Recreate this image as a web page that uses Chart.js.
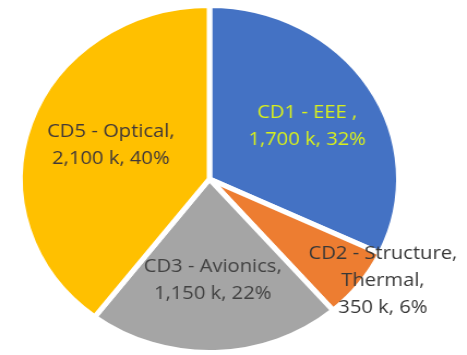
<!DOCTYPE html>
<html>
<head>
<meta charset="utf-8">
<script src="https://cdn.jsdelivr.net/npm/chart.js@4.4.1/dist/chart.umd.min.js"></script>
<style>
    html, body { margin: 0; padding: 0; background: #fff; overflow: hidden; }
    #wrap {
        position: absolute; left: 0; top: 0;
        width: 428px; height: 355px;
        transform: scaleX(1.091); transform-origin: 0 0;
    }
</style>
</head>
<body>
<div id="wrap"><canvas id="costChart"></canvas></div>
<script>
// Cost split per domain (k)
const categories = ['CD1 - EEE ,', 'CD2 - Structure, Thermal,', 'CD3 - Avionics,', 'CD5 - Optical,'];
const costs = [1700, 350, 1150, 2100];
const shares = ['32%', '6%', '22%', '40%'];

const sliceColors = ['#4472C4', '#ED7D31', '#A5A5A5', '#FFC000'];
const labelColors = ['#d8f01c', '#383838', '#424242', '#413838'];
// label distance from centre (fraction of radius) plus a small nudge
const labelRadius = [0.61, 1.08, 0.58, 0.55];
const labelNudge = [[0, 4], [10, -12], [0, 1], [0, -3]];
const labelLines = [
    ['CD1 - EEE ,', null],
    ['CD2 - Structure,', 'Thermal,', null],
    ['CD3 - Avionics,', null],
    ['CD5 - Optical,', null]
];

const fmt = v => v.toLocaleString('en-US') + ' k';

const sliceLabels = {
    id: 'sliceLabels',
    afterDatasetsDraw(chart) {
        const ctx = chart.ctx;
        const meta = chart.getDatasetMeta(0);
        ctx.save();
        ctx.font = '18.5px "Open Sans", sans-serif';
        ctx.textAlign = 'center';
        ctx.textBaseline = 'middle';
        meta.data.forEach((arc, i) => {
            const p = arc.getProps(['x', 'y', 'startAngle', 'endAngle', 'outerRadius'], true);
            const mid = (p.startAngle + p.endAngle) / 2;
            const r = p.outerRadius * labelRadius[i];
            const cx = p.x + Math.cos(mid) * r + labelNudge[i][0];
            const cy = p.y + Math.sin(mid) * r + labelNudge[i][1];
            const lines = labelLines[i].map(t => t === null ? fmt(costs[i]) + ', ' + shares[i] : t);
            const lh = 27;
            ctx.fillStyle = labelColors[i];
            lines.forEach((t, k) => {
                ctx.fillText(t, cx, cy + (k - (lines.length - 1) / 2) * lh);
            });
        });
        ctx.restore();
    }
};

new Chart(document.getElementById('costChart'), {
    type: 'pie',
    data: {
        labels: categories,
        datasets: [{
            data: costs,
            backgroundColor: sliceColors,
            borderColor: '#ffffff',
            borderWidth: 5
        }]
    },
    options: {
        responsive: true,
        maintainAspectRatio: false,
        animation: false,
        layout: { padding: { top: 3, bottom: 0, left: 16, right: 60 } },
        plugins: {
            legend: { display: false },
            tooltip: { enabled: false }
        }
    },
    plugins: [sliceLabels]
});
</script>
</body>
</html>
